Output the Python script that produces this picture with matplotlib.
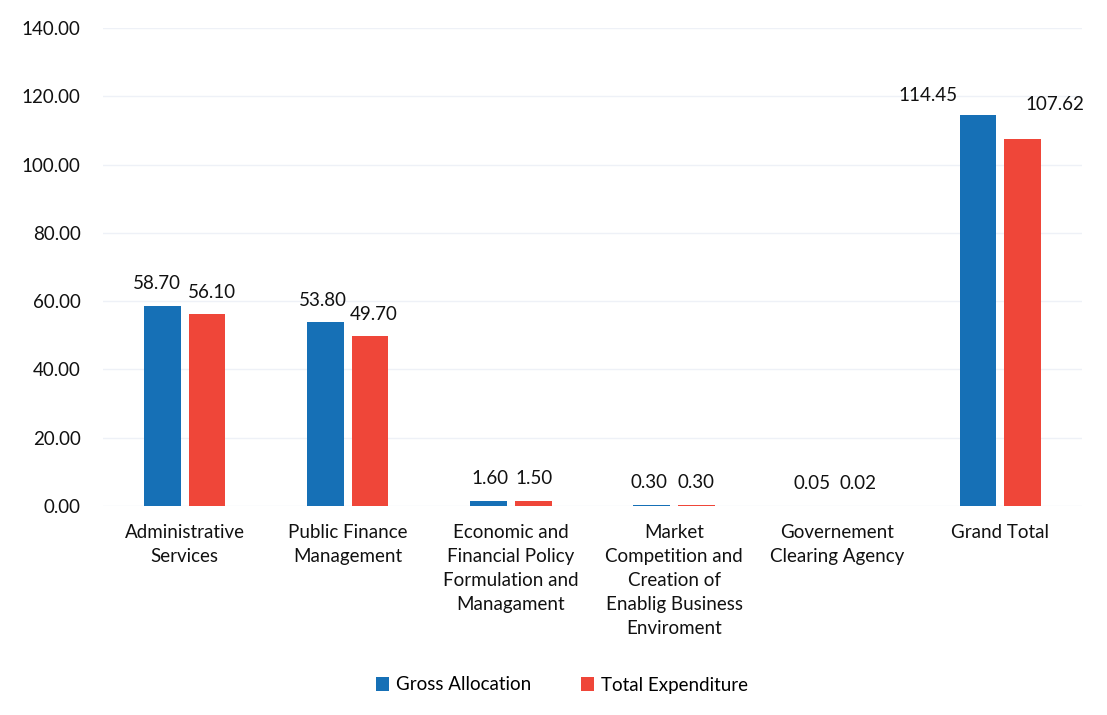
import matplotlib
matplotlib.use("Agg")
import matplotlib.pyplot as plt
import numpy as np

categories = ["Administrative\nServices", "Public Finance\nManagement",
              "Economic and\nFinancial Policy\nFormulation and\nManagament",
              "Market\nCompetition and\nCreation of\nEnablig Business\nEnviroment",
              "Governement\nClearing Agency", "Grand Total"]
gross_allocation = [58.70, 53.80, 1.60, 0.30, 0.05, 114.45]
total_expenditure = [56.10, 49.70, 1.50, 0.30, 0.02, 107.62]
series_names = ["Gross Allocation", "Total Expenditure"]
yticks = [0, 20, 40, 60, 80, 100, 120, 140]

blue = "#1670b6"
red = "#ef4639"

plt.rcParams['font.family'] = ['Lato', 'DejaVu Sans']
FS = 13.5

fig = plt.figure(figsize=(11.07, 7.15), dpi=100)
ax = fig.add_axes([103/1107, 1 - 506/715, (1082-103)/1107, (506-28)/715])

x = np.arange(len(categories))
w = 0.225
off = 0.137
b1 = ax.bar(x - off, gross_allocation, w, color=blue, label=series_names[0])
b2 = ax.bar(x + off, total_expenditure, w, color=red, label=series_names[1])

# label offsets in pixels (dx, dy) relative to bar top-center
off_g = [(-5, 22), (-3, 22), (1, 22), (-3, 22), (-3, 22), (-50, 20)]
off_t = [(5, 22), (4, 22), (1, 22), (0, 22), (-2, 22), (32, 34)]
for i in range(len(categories)):
    ax.annotate(f"{gross_allocation[i]:.2f}", (x[i] - off, gross_allocation[i]),
                xytext=off_g[i], textcoords="offset pixels",
                ha="center", va="center", fontsize=FS, color="#111111")
    ax.annotate(f"{total_expenditure[i]:.2f}", (x[i] + off, total_expenditure[i]),
                xytext=off_t[i], textcoords="offset pixels",
                ha="center", va="center", fontsize=FS, color="#111111")

ax.set_xlim(-0.5, len(categories) - 0.5)
ax.set_ylim(0, 140)
ax.set_yticks(yticks)
ax.set_yticklabels([f"{v:.2f}" for v in yticks], fontsize=FS, color="#111111")
ax.set_xticks(x)
ax.set_xticklabels(categories, fontsize=FS, color="#111111", linespacing=1.5, va="top")
ax.tick_params(axis="both", length=0)
ax.tick_params(axis="y", pad=16)
ax.tick_params(axis="x", pad=13)
for s in ax.spines.values():
    s.set_visible(False)
ax.yaxis.grid(True, color="#eef1f7", linewidth=1)
ax.set_axisbelow(True)

fig.legend(handles=[b1, b2], labels=series_names, loc="center",
           bbox_to_anchor=(562/1107, 1 - 685/715), ncol=2, frameon=False,
           fontsize=FS, handlelength=0.7, handleheight=0.7, handletextpad=0.4,
           columnspacing=2.6)

fig.savefig("out.png", dpi=100)
